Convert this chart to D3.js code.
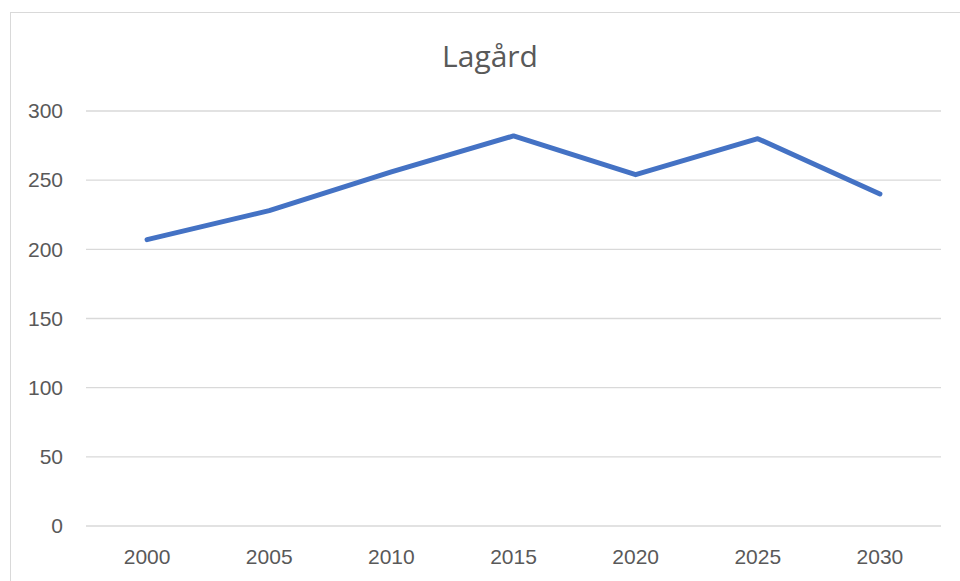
<!DOCTYPE html>
<html>
<head>
<meta charset="utf-8">
<script src="https://cdn.jsdelivr.net/npm/d3@7"></script>
<style>
  body { margin: 0; background: #fff; }
  svg { display: block; font-family: "Open Sans", sans-serif; }
</style>
</head>
<body>
<div class="chart"></div>
<script>
var years = ["2000", "2005", "2010", "2015", "2020", "2025", "2030"];
var values = [207, 228, 256, 282, 254, 280, 240];
var yTicks = [0, 50, 100, 150, 200, 250, 300];

var width = 960, height = 581;
var margin = {top: 111, bottom: 55, left: 86, right: 19};

var canvas = d3.select(".chart").append("svg")
  .attr("width", width)
  .attr("height", height);

// chart border
canvas.append("rect")
  .attr("x", 10.5).attr("y", 12.5)
  .attr("width", 960).attr("height", 600)
  .attr("fill", "white")
  .attr("stroke", "#d9d9d9");

var xScale = d3.scaleBand()
  .domain(years)
  .range([margin.left, width - margin.right]);

var yScale = d3.scaleLinear()
  .domain([0, 300])
  .range([height - margin.bottom, margin.top]);

// gridlines
canvas.append("g")
  .selectAll("line")
  .data(yTicks)
  .enter().append("line")
  .attr("x1", margin.left)
  .attr("x2", width - margin.right)
  .attr("y1", function(d){ return yScale(d); })
  .attr("y2", function(d){ return yScale(d); })
  .attr("stroke", "#d9d9d9")
  .attr("stroke-width", 1.3);

// y axis
var yAxis = d3.axisLeft(yScale).tickValues(yTicks).tickSize(0).tickPadding(23);
var yg = canvas.append("g")
  .attr("transform", "translate(" + margin.left + ",0)")
  .call(yAxis);
yg.select(".domain").remove();
yg.selectAll("text").attr("fill", "#595959").style("font-size", "21px");

// x axis
var xAxis = d3.axisBottom(xScale).tickSize(0).tickPadding(23);
var xg = canvas.append("g")
  .attr("transform", "translate(0," + (height - margin.bottom) + ")")
  .call(xAxis);
xg.select(".domain").remove();
xg.selectAll("text").attr("fill", "#595959").style("font-size", "21px");

// line
var line = d3.line()
  .x(function(d, i){ return xScale(years[i]) + xScale.bandwidth() / 2; })
  .y(function(d){ return yScale(d); });

canvas.append("path")
  .datum(values)
  .attr("d", line)
  .attr("fill", "none")
  .attr("stroke", "#4472c4")
  .attr("stroke-width", 5)
  .attr("stroke-linejoin", "round")
  .attr("stroke-linecap", "round");

// title
canvas.append("text")
  .attr("x", 490)
  .attr("y", 67)
  .attr("text-anchor", "middle")
  .attr("fill", "#595959")
  .style("font-size", "30px")
  .text("Lagård");
</script>
</body>
</html>
